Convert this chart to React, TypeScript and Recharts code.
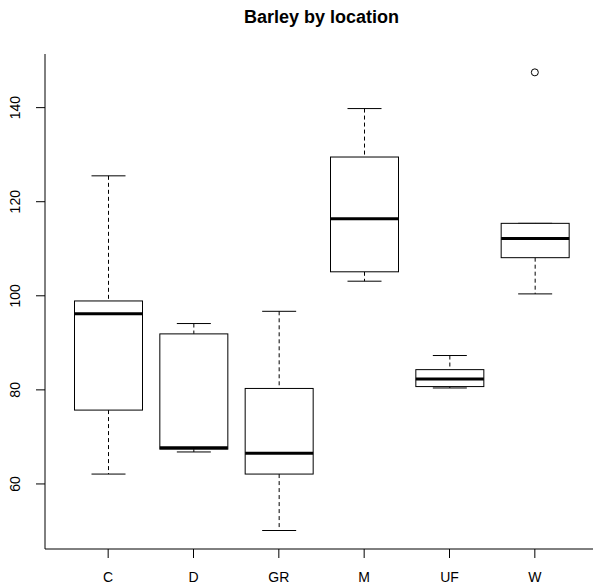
import React from 'react';
import { ComposedChart, Bar, Line, XAxis, YAxis } from 'recharts';

const locations = ['C', 'D', 'GR', 'M', 'UF', 'W'];
const whiskerLow = [62.1, 66.8, 50.1, 103.1, 80.4, 100.4];
const lowerQuartile = [75.7, 67.4, 62.1, 105.1, 80.7, 108.1];
const medians = [96.2, 67.7, 66.5, 116.4, 82.3, 112.2];
const upperQuartile = [98.9, 91.9, 80.3, 129.5, 84.3, 115.4];
const whiskerHigh = [125.5, 94.1, 96.7, 139.8, 87.3, 115.4];
const outliers: (number | null)[] = [null, null, null, null, null, 147.5];
const yTicks = [60, 80, 100, 120, 140];
const yDomain = [46.17, 151.4];

const data = locations.map((name, i) => ({
  name,
  lo: whiskerLow[i],
  q1: lowerQuartile[i],
  med: medians[i],
  q3: upperQuartile[i],
  hi: whiskerHigh[i],
  out: outliers[i],
}));

const FONT = '"Liberation Sans", Arial, Helvetica, sans-serif';

const BoxShape = (props: any) => {
  const { x, y, width, height, payload } = props;
  if (!payload || x == null) return null;
  const top = Math.min(y, y + height);
  const bottom = Math.max(y, y + height);
  const { lo, hi, q1, q3, med } = payload;
  const pix = (v: number) => (hi === lo ? top : bottom + ((v - lo) / (hi - lo)) * (top - bottom));
  const cx = x + width / 2;
  const staple = width / 4;
  const yq1 = pix(q1);
  const yq3 = pix(q3);
  const ym = pix(med);
  return (
    <g>
      <line x1={cx} x2={cx} y1={top} y2={yq3} stroke="#000" strokeWidth={1} strokeDasharray="4 3" />
      <line x1={cx} x2={cx} y1={yq1} y2={bottom} stroke="#000" strokeWidth={1} strokeDasharray="4 3" />
      <line x1={cx - staple} x2={cx + staple} y1={top} y2={top} stroke="#000" strokeWidth={1} />
      <line x1={cx - staple} x2={cx + staple} y1={bottom} y2={bottom} stroke="#000" strokeWidth={1} />
      <rect x={x} y={yq3} width={width} height={yq1 - yq3} fill="#fff" stroke="#000" strokeWidth={1} />
      <line x1={x} x2={x + width} y1={ym} y2={ym} stroke="#000" strokeWidth={3} />
    </g>
  );
};

const YTick = (props: any) => {
  const { x, y, payload } = props;
  return (
    <text
      transform={`translate(${x - 14},${y}) rotate(-90)`}
      textAnchor="middle"
      fontSize={14}
      fontFamily={FONT}
      fill="#000"
    >
      {payload.value}
    </text>
  );
};

const XTick = (props: any) => {
  const { x, y, payload } = props;
  return (
    <text x={x} y={y} dy="0.71em" textAnchor="middle" fontSize={14} fontFamily={FONT} fill="#000">
      {payload.value}
    </text>
  );
};

export default function App() {
  return (
    <div style={{ position: 'absolute', left: 0, top: 0, width: 593, height: 588, overflow: 'hidden', background: '#fff' }}>
      <div
        style={{
          position: 'absolute',
          left: 45,
          width: 553,
          top: 6,
          textAlign: 'center',
          fontFamily: FONT,
          fontWeight: 'bold',
          fontSize: 18,
          color: '#000',
          lineHeight: '22px',
        }}
      >
        Barley by location
      </div>
      <ComposedChart
        width={600}
        height={588}
        data={data}
        margin={{ top: 54, right: 2, bottom: 0, left: 0 }}
      >
        <XAxis
          dataKey="name"
          type="category"
          height={39}
          padding={{ left: 20.5, right: 20.5 }}
          axisLine={{ stroke: '#000', strokeWidth: 1 }}
          tickLine={{ stroke: '#000', strokeWidth: 1 }}
          tickSize={9}
          tickMargin={14}
          tick={<XTick />}
          interval={0}
        />
        <XAxis
          xAxisId="top"
          dataKey="name"
          orientation="top"
          height={0}
          tick={false}
          tickLine={false}
          axisLine={{ stroke: '#000', strokeWidth: 1 }}
        />
        <YAxis
          type="number"
          domain={yDomain}
          ticks={yTicks}
          allowDataOverflow
          width={45}
          axisLine={{ stroke: '#000', strokeWidth: 1 }}
          tickLine={{ stroke: '#000', strokeWidth: 1 }}
          tickSize={9}
          tickMargin={2}
          tick={<YTick />}
        />
        <Bar dataKey={(d: any) => [d.lo, d.hi]} barSize={68} shape={<BoxShape />} isAnimationActive={false} />
        <Line
          dataKey="out"
          stroke="none"
          connectNulls={false}
          dot={{ r: 3.5, stroke: '#000', strokeWidth: 1, fill: 'none' }}
          activeDot={false}
          isAnimationActive={false}
        />
      </ComposedChart>
    </div>
  );
}
